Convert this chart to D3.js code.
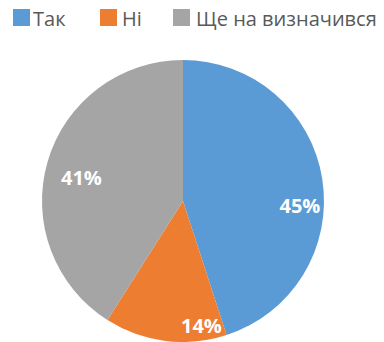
<!DOCTYPE html>
<html>
<head>
<meta charset="utf-8">
<script src="https://cdn.jsdelivr.net/npm/d3@7"></script>
<style>
  html, body { margin: 0; padding: 0; background: #fff; }
  svg { display: block; }
</style>
</head>
<body>
<svg id="chart" width="384" height="342"></svg>
<script>
// Survey answers and their shares
const categories = ["Так", "Ні", "Ще на визначився"];
const shares = [45, 14, 41];
const labels = ["45%", "14%", "41%"];
const colors = ["#5B9BD5", "#ED7D31", "#A5A5A5"];

// Where each value label sits: fraction through its slice and fraction of the radius
const labelPlacement = [
  { along: 0.57, radius: 0.83 },
  { along: 0.19, radius: 0.89 },
  { along: 0.48, radius: 0.74 }
];

const svg = d3.select("#chart");
const cx = 183, cy = 201, r = 141;

const pie = d3.pie().sort(null).value(d => d)(shares);
const arc = d3.arc().innerRadius(0).outerRadius(r);

const g = svg.append("g").attr("transform", `translate(${cx},${cy})`);

g.selectAll("path.slice")
  .data(pie)
  .join("path")
  .attr("class", "slice")
  .attr("d", arc)
  .attr("fill", (d, i) => colors[i]);

g.selectAll("text.val")
  .data(pie)
  .join("text")
  .attr("class", "val")
  .attr("x", (d, i) => {
    const a = d.startAngle + (d.endAngle - d.startAngle) * labelPlacement[i].along;
    return Math.sin(a) * r * labelPlacement[i].radius;
  })
  .attr("y", (d, i) => {
    const a = d.startAngle + (d.endAngle - d.startAngle) * labelPlacement[i].along;
    return -Math.cos(a) * r * labelPlacement[i].radius;
  })
  .attr("text-anchor", "middle")
  .attr("dominant-baseline", "central")
  .attr("fill", "#fff")
  .attr("font-family", "'Open Sans', sans-serif")
  .attr("font-weight", "bold")
  .attr("font-size", 20)
  .text((d, i) => labels[i]);

// Legend across the top
const legendX = [13, 100, 173];
const legend = svg.append("g");
const items = legend.selectAll("g")
  .data(categories)
  .join("g")
  .attr("transform", (d, i) => `translate(${legendX[i]},9)`);

items.append("rect")
  .attr("width", 17)
  .attr("height", 17)
  .attr("fill", (d, i) => colors[i]);

items.append("text")
  .attr("x", (d, i) => [20, 22, 23][i])
  .attr("y", 16.5)
  .attr("fill", "#595959")
  .attr("font-family", "'Open Sans', sans-serif")
  .attr("font-size", 20)
  .text(d => d);
</script>
</body>
</html>
